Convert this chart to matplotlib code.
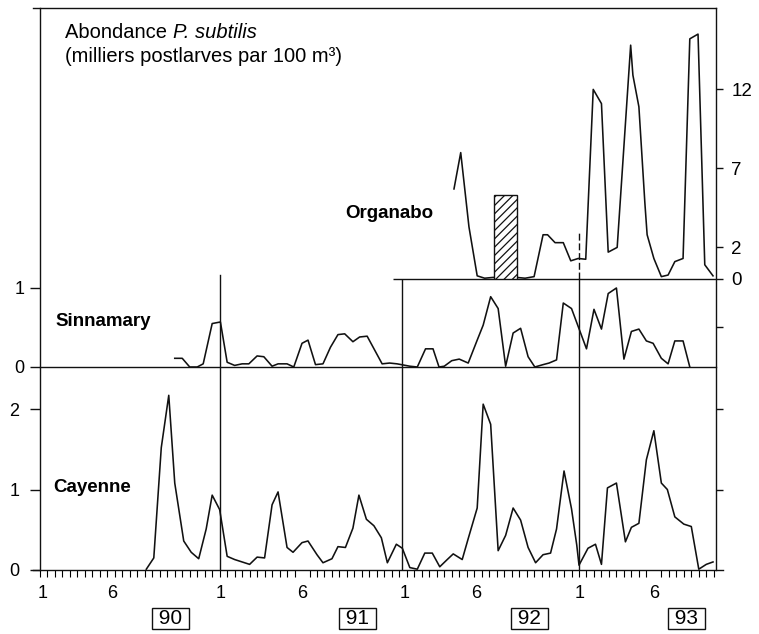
import numpy as np
import matplotlib.pyplot as plt
import matplotlib.transforms as mtransforms

plt.rcParams['font.family'] = ['Liberation Sans', 'DejaVu Sans']
plt.rcParams['hatch.linewidth'] = 0.9

# x = months since 1 January 1990 (about one sample per fortnight)
cayenne_x = [7.1, 7.6, 8.1, 8.6, 9.0, 9.6, 10.1, 10.6, 11.1, 11.5, 12.0, 12.5, 13.0, 13.5, 14.0,
             14.5, 15.0, 15.5, 15.9, 16.5, 16.9, 17.5, 17.9, 18.5, 18.9, 19.5, 19.9, 20.4, 20.9,
             21.3, 21.8, 22.3, 22.8, 23.2, 23.8, 24.2, 24.7, 25.2, 25.7, 26.2, 26.7, 27.2, 27.6,
             28.2, 28.6, 29.2, 29.6, 30.1, 30.6, 31.1, 31.6, 32.1, 32.6, 33.1, 33.6, 34.1, 34.5,
             35.0, 35.5, 35.85, 36.0, 36.6, 37.1, 37.5, 37.9, 38.5, 39.1, 39.5, 40.0, 40.5, 41.0,
             41.5, 41.9, 42.4, 43.0, 43.5, 44.0, 44.5, 44.95]
cayenne_y = [0.01, 0.15, 1.52, 2.17, 1.08, 0.36, 0.22, 0.14, 0.51, 0.93, 0.75, 0.17, 0.13, 0.10, 0.07,
             0.16, 0.15, 0.81, 0.97, 0.28, 0.22, 0.34, 0.36, 0.19, 0.09, 0.14, 0.29, 0.28, 0.52,
             0.93, 0.63, 0.55, 0.40, 0.09, 0.32, 0.27, 0.03, 0.01, 0.21, 0.21, 0.04, 0.13, 0.20,
             0.13, 0.39, 0.77, 2.06, 1.81, 0.24, 0.43, 0.77, 0.62, 0.28, 0.09, 0.19, 0.21, 0.51,
             1.23, 0.76, 0.31, 0.06, 0.27, 0.32, 0.07, 1.02, 1.08, 0.35, 0.53, 0.58, 1.37, 1.73,
             1.08, 1.00, 0.66, 0.57, 0.54, 0.01, 0.07, 0.10]

sinnamary_x = [9.0, 9.5, 10.0, 10.5, 10.9, 11.5, 12.05, 12.5, 13.0, 13.5, 13.95, 14.5, 14.95, 15.5,
               15.9, 16.5, 16.95, 17.5, 17.9, 18.4, 18.9, 19.4, 19.9, 20.35, 20.9, 21.35, 21.85,
               22.85, 23.35, 23.85, 24.7, 25.2, 25.75, 26.25, 26.65, 27.0, 27.5, 28.0, 28.6, 29.2,
               29.6, 30.1, 30.6, 31.1, 31.6, 32.1, 32.6, 33.05, 33.6, 34.0, 34.5, 34.95, 35.5,
               36.5, 37.0, 37.5, 37.95, 38.5, 39.0, 39.5, 40.0, 40.5, 40.95, 41.5, 41.95, 42.4,
               42.95, 43.4]
sinnamary_y = [0.11, 0.11, 0.0, 0.0, 0.04, 0.55, 0.57, 0.06, 0.02, 0.04, 0.04, 0.14, 0.13, 0.01,
               0.04, 0.04, 0.0, 0.30, 0.34, 0.03, 0.04, 0.25, 0.41, 0.42, 0.32, 0.38, 0.39,
               0.04, 0.05, 0.04, 0.01, 0.0, 0.23, 0.23, 0.0, 0.01, 0.08, 0.10, 0.05, 0.34,
               0.53, 0.89, 0.74, 0.01, 0.43, 0.49, 0.13, 0.0, 0.03, 0.05, 0.09, 0.81, 0.74,
               0.23, 0.73, 0.48, 0.93, 1.0, 0.10, 0.45, 0.48, 0.33, 0.30, 0.11, 0.04, 0.33,
               0.33, 0.0]

organabo_x = [27.65, 28.1, 28.65, 29.2, 29.7, 30.25, 31.85, 32.4, 33.0, 33.6, 33.9, 34.4, 34.95,
              35.45, 35.95, 36.45, 36.95, 37.5, 37.95, 38.55, 39.45, 39.6, 40.0, 40.4, 40.55,
              41.0, 41.5, 41.95, 42.4, 42.95, 43.4, 43.95, 44.4, 44.95]
organabo_y = [5.7, 8.0, 3.3, 0.2, 0.05, 0.1, 0.1, 0.05, 0.15, 2.8, 2.8, 2.3, 2.3,
              1.15, 1.3, 1.25, 12.0, 11.1, 1.7, 2.0, 14.8, 12.9, 10.9, 4.8, 2.8,
              1.3, 0.15, 0.25, 1.1, 1.3, 15.2, 15.5, 0.9, 0.2]
organabo_start = 23.6            # Organabo record begins here (baseline start)
gap_x = (30.3, 31.85)            # hatched block: no sampling
gap_height = 5.3

year_starts = [12.0, 24.2, 36.0]
tick_x = [0.15, 4.8, 12.05, 17.5, 24.35, 29.1, 36.05, 41.0]
tick_labels = ['1', '6', '1', '6', '1', '6', '1', '6']
years = ['90', '91', '92', '93']
year_x = [8.7, 21.2, 32.7, 43.2]

organabo_ticks = [0, 2, 7, 12]
sinnamary_ticks = [0, 1]
cayenne_ticks = [0, 1, 2]

W, H = 759, 634
fig = plt.figure(figsize=(W / 100, H / 100), dpi=100)


def box(left, top, right, bottom):
    return [left / W, 1 - bottom / H, (right - left) / W, (bottom - top) / H]


XMAX = 45.15
LW = 1.15
ink = '#111111'

# outer frame with the month axis
frame = fig.add_axes(box(40, 8, 716, 570))
frame.set_xlim(0, XMAX)
frame.set_ylim(0, 1)
for s in frame.spines.values():
    s.set_linewidth(1.0)
    s.set_color(ink)
frame.spines['bottom'].set_bounds(-0.45, XMAX + 0.5)
frame.spines['top'].set_bounds(-0.45, XMAX)
frame.set_yticks([])
frame.set_xticks(tick_x, tick_labels)
frame.set_xticks(np.arange(0, 45.1, 0.5), minor=True)
frame.tick_params(axis='x', which='major', length=0, pad=11, labelsize=13)
frame.tick_params(axis='x', which='minor', length=5, width=0.8, direction='out')

trans = mtransforms.blended_transform_factory(frame.transData, frame.transAxes)
for x, lab in zip(year_x, years):
    frame.text(x, -0.087, ' ' + lab + ' ', transform=trans, ha='center', va='center',
               fontsize=15, bbox=dict(boxstyle='square,pad=0.05', fc='white', ec=ink, lw=1))

# year separators (the 1993 one is dashed above the Organabo baseline)
line_tops = [275, 280, 279]
for x, top in zip(year_starts, line_tops):
    frame.axvline(x, ymin=0, ymax=(570 - top) / 562, color=ink, lw=1)
frame.axvline(year_starts[2], ymin=(570 - 279) / 562, ymax=(570 - 233) / 562, color=ink,
              lw=1, ls=(0, (5, 2)))


def panel(top, bottom, ymax):
    a = fig.add_axes(box(40, top, 716, bottom))
    a.set_xlim(0, XMAX)
    a.set_ylim(0, ymax)
    a.patch.set_visible(False)
    for s in a.spines.values():
        s.set_visible(False)
    a.set_xticks([])
    return a


def right_ticks(a, ticks):
    sec = a.secondary_yaxis('right')
    for s in sec.spines.values():
        s.set_visible(False)
    sec.set_yticks(ticks)
    sec.set_yticklabels([])
    sec.tick_params(length=5, width=1, direction='out', color=ink)
    return sec


# Organabo
ax_o = panel(8, 279, 271 / 15.8)
ax_o.yaxis.tick_right()
ax_o.set_yticks(organabo_ticks)
ax_o.tick_params(axis='y', direction='out', length=5, width=1, pad=6, labelsize=13.5, color=ink)
ax_o.hlines(0, organabo_start, XMAX, color=ink, lw=1, clip_on=False)
ax_o.plot(organabo_x, organabo_y, color=ink, lw=LW)
ax_o.bar((gap_x[0] + gap_x[1]) / 2, gap_height, width=gap_x[1] - gap_x[0], facecolor='white',
         edgecolor=ink, lw=1, hatch='////', zorder=3)

# Sinnamary
ax_s = panel(279, 367, 88 / 79)
ax_s.set_yticks(sinnamary_ticks)
ax_s.tick_params(axis='y', direction='out', length=7, width=1, pad=4, labelsize=13, color=ink)
ax_s.axhline(0, color=ink, lw=1, clip_on=False)
ax_s.plot(sinnamary_x, sinnamary_y, color=ink, lw=LW)
right_ticks(ax_s, [0.5])

# Cayenne
ax_c = panel(367, 570, 203 / 80.5)
ax_c.set_yticks(cayenne_ticks)
ax_c.tick_params(axis='y', direction='out', length=7, width=1, pad=8, labelsize=13, color=ink)
ax_c.plot(cayenne_x, cayenne_y, color=ink, lw=LW)
right_ticks(ax_c, [1, 2])

# station names
fig.text(433 / W, 1 - 213 / H, 'Organabo', ha='right', va='center', fontsize=13.5, fontweight='bold')
fig.text(55 / W, 1 - 322 / H, 'Sinnamary', ha='left', va='center', fontsize=13.5, fontweight='bold')
fig.text(53 / W, 1 - 488 / H, 'Cayenne', ha='left', va='center', fontsize=13.5, fontweight='bold')

# title
t1 = fig.text(65 / W, 1 - 38 / H, 'Abondance ', ha='left', va='baseline', fontsize=14.5)
frame.annotate('P. subtilis', xy=(1, 0), xycoords=t1, ha='left', va='bottom',
               fontsize=14.5, style='italic')
fig.text(65 / W, 1 - 62 / H, '(milliers postlarves par 100 m³)', ha='left', va='baseline',
         fontsize=14.5)

fig.savefig('out.png', dpi=100)
